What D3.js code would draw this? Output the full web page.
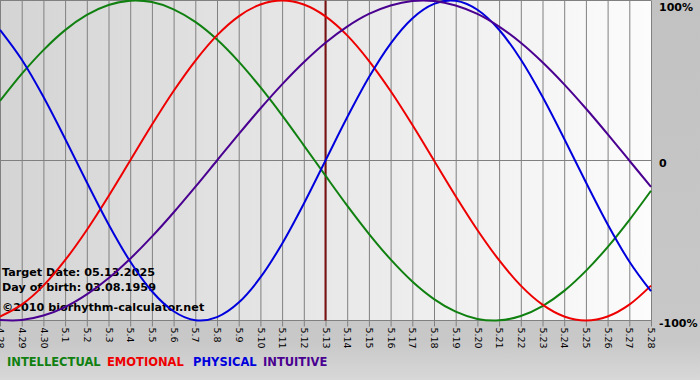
<!DOCTYPE html>
<html>
<head>
<meta charset="utf-8">
<script src="https://cdn.jsdelivr.net/npm/d3@7"></script>
<style>
html,body{margin:0;padding:0;background:#c4c4c4;}
svg{display:block;}
</style>
</head>
<body>
<svg id="chart" width="700" height="380"></svg>
<script>
const dates = ["4.28","4.29","4.30","5.1","5.2","5.3","5.4","5.5","5.6","5.7","5.8","5.9","5.10","5.11","5.12","5.13","5.14","5.15","5.16","5.17","5.18","5.19","5.20","5.21","5.22","5.23","5.24","5.25","5.26","5.27","5.28"];
const intellectual = [37.2,54.1,69.0,81.5,91.0,97.2,99.9,99.0,94.5,86.6,75.6,61.8,45.8,28.2,9.5,-9.5,-28.2,-45.8,-61.8,-75.6,-86.6,-94.5,-99.0,-99.9,-97.2,-91.0,-81.5,-69.0,-54.1,-37.2,-18.9];
const emotional = [-97.5,-90.1,-78.2,-62.3,-43.4,-22.3,0,22.3,43.4,62.3,78.2,90.1,97.5,100,97.5,90.1,78.2,62.3,43.4,22.3,0,-22.3,-43.4,-62.3,-78.2,-90.1,-97.5,-100,-97.5,-90.1,-78.2];
const physical = [81.7,63.1,39.8,13.6,-13.6,-39.8,-63.1,-81.7,-94.2,-99.8,-97.9,-88.8,-73.1,-52.0,-27.0,0,27.0,52.0,73.1,88.8,97.9,99.8,94.2,81.7,63.1,39.8,13.6,-13.6,-39.8,-63.1,-81.7];
const intuitive = [-99.7,-99.7,-96.9,-91.6,-83.7,-73.6,-61.4,-47.6,-32.5,-16.5,0,16.5,32.5,47.6,61.4,73.6,83.7,91.6,96.9,99.7,99.7,96.9,91.6,83.7,73.6,61.4,47.6,32.5,16.5,0,-16.5];
const yTicks = [100, 0, -100];
const yTickLabels = ["100%", "0", "-100%"];
const targetDate = "5.13";
const infoLines = ["Target Date: 05.13.2025", "Day of birth: 03.08.1959", "\u00A92010 biorhythm-calculator.net"];
const legendNames = ["INTELLECTUAL", "EMOTIONAL", "PHYSICAL", "INTUITIVE"];

const series = [
  {name: "INTELLECTUAL", values: intellectual, color: "#108010"},
  {name: "EMOTIONAL", values: emotional, color: "#ee0000"},
  {name: "PHYSICAL", values: physical, color: "#0000dd"},
  {name: "INTUITIVE", values: intuitive, color: "#4a0090"}
];

const svg = d3.select("#chart");
const W = 700, H = 380;
const plotL = 0, plotR = 651, plotT = 0.5, plotB = 320.5;

const defs = svg.append("defs");
const gBg = defs.append("linearGradient").attr("id","plotbg").attr("x1","0").attr("x2","1").attr("y1","0").attr("y2","0");
gBg.append("stop").attr("offset","0").attr("stop-color","#d4d4d4");
gBg.append("stop").attr("offset","1").attr("stop-color","#fcfcfc");
const gOut = defs.append("linearGradient").attr("id","outbg").attr("x1","0").attr("x2","0").attr("y1","0").attr("y2","1");
gOut.append("stop").attr("offset","0").attr("stop-color","#c2c2c2");
gOut.append("stop").attr("offset","0.9").attr("stop-color","#c8c8c8");
gOut.append("stop").attr("offset","1").attr("stop-color","#d8d8d8");

svg.append("rect").attr("x",0).attr("y",0).attr("width",W).attr("height",H).attr("fill","url(#outbg)");

const x = d3.scalePoint().domain(dates).range([plotL, plotR]);
const y = d3.scaleLinear().domain([-100, 100]).range([plotB, plotT]);

svg.append("rect").attr("x",plotL).attr("y",plotT).attr("width",plotR-plotL).attr("height",plotB-plotT).attr("fill","url(#plotbg)");

// vertical grid lines with ticks below
const xAxis = d3.axisBottom(x).tickSize(6).tickPadding(2);
const gx = svg.append("g").attr("transform",`translate(0,${plotB})`).call(xAxis);
gx.select(".domain").remove();
gx.selectAll(".tick line").attr("stroke","#808080").attr("y1", -(plotB-plotT)).attr("y2", 6);
gx.selectAll(".tick text")
  .attr("font-family","Tahoma, 'DejaVu Sans', sans-serif")
  .attr("font-size","9.5px")
  .attr("fill","#000")
  .attr("transform","rotate(90)")
  .attr("text-anchor","start")
  .attr("dy","0.35em")
  .attr("x", 7)
  .attr("y", 0);

// horizontal lines
svg.append("g").selectAll("line").data(yTicks).join("line")
  .attr("x1",plotL).attr("x2",plotR)
  .attr("y1",d=>y(d)).attr("y2",d=>y(d))
  .attr("stroke","#808080").attr("stroke-width",1);
const labelShift = [6.5, 2, 2];
const yAxis = d3.axisRight(y).tickValues(yTicks).tickSize(0).tickFormat((d,i)=>yTickLabels[i]).tickPadding(8);
const gy = svg.append("g").attr("transform",`translate(${plotR},0)`).call(yAxis);
gy.select(".domain").remove();
gy.selectAll(".tick text")
  .attr("font-family","Verdana, 'DejaVu Sans', sans-serif")
  .attr("font-weight","bold")
  .attr("font-size","11px")
  .attr("fill","#000")
  .attr("y",(d,i)=>labelShift[i]);

// target date line
svg.append("line")
  .attr("x1",x(targetDate)).attr("x2",x(targetDate))
  .attr("y1",plotT).attr("y2",plotB)
  .attr("stroke","#7a1010").attr("stroke-width",2);

// info text
svg.append("g").selectAll("text").data(infoLines).join("text")
  .attr("x",2).attr("y",(d,i)=>[276,291,311][i])
  .attr("font-family","Verdana, 'DejaVu Sans', sans-serif")
  .attr("font-weight","bold")
  .attr("font-size","11.2px")
  .attr("fill","#000")
  .text(d=>d);

// curves
const clip = defs.append("clipPath").attr("id","plotclip");
clip.append("rect").attr("x",plotL).attr("y",plotT-2).attr("width",plotR-plotL+1).attr("height",plotB-plotT+4);
const lineGen = d3.line().x((d,i)=>x(dates[i])).y(d=>y(d)).curve(d3.curveCardinal.tension(0));
svg.append("g").attr("clip-path","url(#plotclip)").selectAll("path").data(series).join("path")
  .attr("d",d=>lineGen(d.values))
  .attr("fill","none")
  .attr("stroke",d=>d.color)
  .attr("stroke-width",2);

// legend
const legendX = [7, 107, 193, 263];
svg.append("g").selectAll("text").data(legendNames).join("text")
  .attr("x",(d,i)=>legendX[i]).attr("y",366)
  .attr("font-family","Verdana, 'DejaVu Sans', sans-serif")
  .attr("font-weight","bold")
  .attr("font-size","11.5px")
  .attr("fill",(d,i)=>series[i].color)
  .text(d=>d);
</script>
</body>
</html>
